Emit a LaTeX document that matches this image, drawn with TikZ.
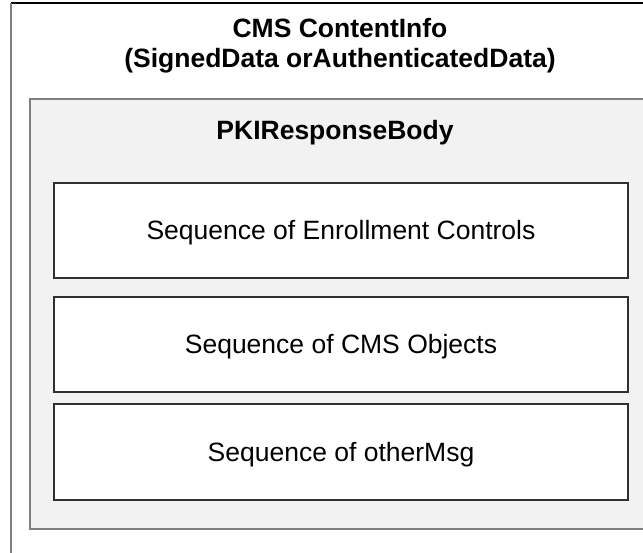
\documentclass[tikz,border=0pt]{standalone}
\usepackage{fontspec}
\setmainfont{Liberation Sans}
\definecolor{panelgray}{HTML}{F2F2F2}
\definecolor{edgegray}{HTML}{7F7F7F}
\definecolor{edgedark}{HTML}{303030}
\tikzset{
  seqbox/.style={draw=edgedark, line width=1.2pt, fill=white, minimum width=574pt, minimum height=95pt, inner sep=0pt, text height=18pt, text depth=0pt, font=\fontsize{26.5}{30}\selectfont},
  titletext/.style={font=\bfseries\fontsize{26.5}{30}\selectfont, align=center, inner sep=0pt},
}
\begin{document}
\begin{tikzpicture}[x=1pt, y=-1pt]
\useasboundingbox (0,0) rectangle (643,552);
\clip (0,0) rectangle (643,552);
% outer ContentInfo frame (right and bottom edges fall outside the picture)
\fill[white] (11,3) rectangle (660,570);
\draw[black, line width=1.2pt] (11,3) -- (660,3);
\draw[edgegray, line width=1.4pt] (11,3) -- (11,570);
% PKIResponseBody panel
\fill[panelgray] (30,99) rectangle (660,529);
\draw[edgegray, line width=1.4pt] (660,99) -- (30,99) -- (30,529) -- (660,529);
% titles
\node[titletext] (cms) at (340,46) {CMS ContentInfo\\(SignedData orAuthenticatedData)};
\node[titletext] (pki) at (335,133) {PKIResponseBody};
% sequences
\node[seqbox] (ctrl) at (341,230.5) {Sequence of Enrollment Controls};
\node[seqbox] (objs) at (341,344.5) {Sequence of CMS Objects};
\node[seqbox, minimum height=96pt] (other) at (341,452) {Sequence of otherMsg};
\end{tikzpicture}
\end{document}
